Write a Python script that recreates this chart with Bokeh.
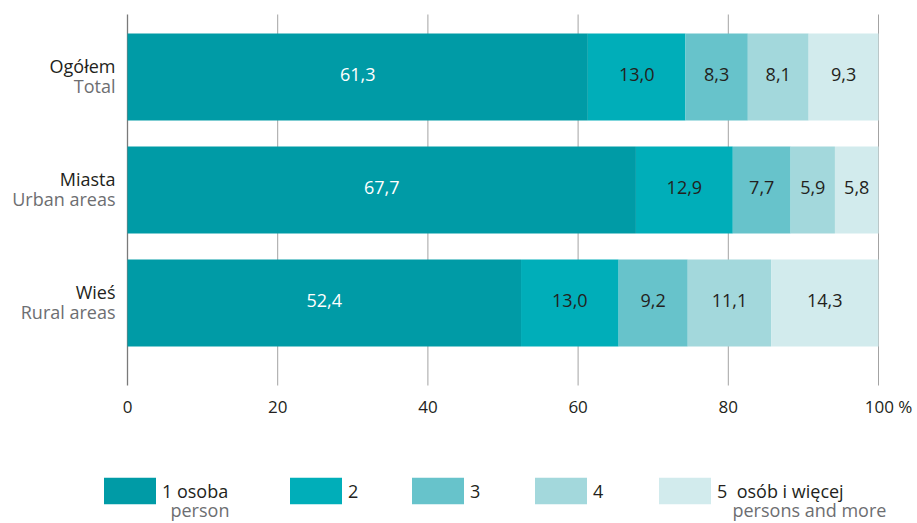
from bokeh.plotting import figure
from bokeh.models import Range1d, ColumnDataSource, Label, Legend, LegendItem
from bokeh.core.properties import value
from bokeh.embed import file_html
from bokeh.resources import INLINE

# ---- data ----
categories_pl = ["Ogółem", "Miasta", "Wieś"]
categories_en = ["Total", "Urban areas", "Rural areas"]
series_pl = ["1 osoba", "2", "3", "4", "5  osób i więcej"]
series_en = ["person", "", "", "", "persons and more"]
one_person = [61.3, 67.7, 52.4]
two_persons = [13.0, 12.9, 13.0]
three_persons = [8.3, 7.7, 9.2]
four_persons = [8.1, 5.9, 11.1]
five_plus = [9.3, 5.8, 14.3]
x_ticks = [0, 20, 40, 60, 80, 100]
x_tick_labels = ["0", "20", "40", "60", "80", "100 %"]

# ---- styles / layout ----
colors = ["#009ba6", "#00aeb9", "#67c3cb", "#a3d8dc", "#d2ebed"]
label_colors = ["#ffffff", "#231f20", "#231f20", "#231f20", "#231f20"]
FONT = "Open Sans"
DARK = "#231f20"
GRAY = "#6d6e71"
W, H = 917, 523
PX_X = 7.51          # pixels per percent
PX_Y = 113.0         # pixels per category step
TOP_CAT_PIX = 76.5   # pixel row of the first category centre
X0 = -127 / PX_X
X1 = 100 + (W - 878) / PX_X
Y1 = 2 + TOP_CAT_PIX / PX_Y
Y0 = 2 - (H - TOP_CAT_PIX) / PX_Y
GRID_TOP = 2 + (TOP_CAT_PIX - 14) / PX_Y
GRID_BOTTOM = -(385 - (TOP_CAT_PIX + 2 * PX_Y)) / PX_Y

series_values = [one_person, two_persons, three_persons, four_persons, five_plus]
keys = ["s%d" % i for i in range(len(series_values))]
n = len(categories_pl)
ypos = [n - 1 - i for i in range(n)]

data = {"y": ypos, "pl": categories_pl, "en": categories_en, "x0": [0] * n}
for k, vals in zip(keys, series_values):
    data[k] = vals
source = ColumnDataSource(data)

p = figure(width=W, height=H, output_backend="svg", toolbar_location=None,
           x_range=Range1d(X0, X1), y_range=Range1d(Y0, Y1),
           x_axis_type=None, y_axis_type=None,
           min_border=0, min_border_left=0, min_border_right=0,
           min_border_top=0, min_border_bottom=0)
p.outline_line_color = None
p.background_fill_color = "white"
p.border_fill_color = "white"

# grid lines (20..100) and zero axis line
grid_x = x_ticks[1:]
p.segment(x0=grid_x, x1=grid_x, y0=[GRID_BOTTOM] * len(grid_x),
          y1=[GRID_TOP] * len(grid_x), line_color="#a3a3a3", line_width=1)
p.segment(x0=[x_ticks[0]], x1=[x_ticks[0]], y0=[GRID_BOTTOM], y1=[GRID_TOP],
          line_color="#7a7a7a", line_width=1.3)

renderers = p.hbar_stack(keys, y="y", height=0.77, color=colors, source=source,
                         line_color=None)

# value labels inside segments
lx, ly, lt, lc = [], [], [], []
for i in range(n):
    left = 0.0
    for j, vals in enumerate(series_values):
        v = vals[i]
        lx.append(left + v / 2)
        ly.append(ypos[i])
        lt.append(("%.1f" % v).replace(".", ","))
        lc.append(label_colors[j])
        left += v
lab_src = ColumnDataSource(dict(x=lx, y=ly, t=lt, c=lc))
p.text(x="x", y="y", text="t", text_color="c", source=lab_src,
       text_align="center", text_baseline="middle", y_offset=-3,
       text_font=value(FONT), text_font_size="18px")

# x tick labels
tick_src = ColumnDataSource(dict(x=x_ticks, y=[GRID_BOTTOM] * len(x_ticks),
                                 t=x_tick_labels,
                                 dx=[0] * (len(x_ticks) - 1) + [10]))
p.text(x="x", y="y", text="t", source=tick_src, x_offset="dx", y_offset=21,
       text_align="center", text_baseline="alphabetic",
       text_font=value(FONT), text_font_size="17px", text_color=DARK)

# category labels (two lines)
p.text(x="x0", y="y", text="pl", source=source, x_offset=-12, y_offset=-11,
       text_align="right", text_baseline="alphabetic",
       text_font=value(FONT), text_font_size="18px", text_color=DARK)
p.text(x="x0", y="y", text="en", source=source, x_offset=-12, y_offset=9,
       text_align="right", text_baseline="alphabetic",
       text_font=value(FONT), text_font_size="18px", text_color=GRAY)

# legend (one block per item to match spacing); Bokeh insets bar swatches by 10%
swatch_x = [103, 289, 411, 534, 658]
sub_x = [170, 0, 0, 0, 732]
GW, GH = 65, 33
for r, lab, en, sxp, tx in zip(renderers, series_pl, series_en, swatch_x, sub_x):
    lg = Legend(items=[LegendItem(label=lab, renderers=[r])],
                location=(sxp - 6, 16),
                orientation="horizontal", padding=0, margin=0, spacing=0,
                glyph_width=GW, glyph_height=GH, label_height=26,
                label_standoff=0, border_line_color=None,
                background_fill_alpha=0, label_text_font=FONT,
                label_text_font_size="18px", label_text_color=DARK)
    p.add_layout(lg)
    if en:
        p.add_layout(Label(x=tx, y=14, x_units="screen", y_units="screen",
                           text=en, text_baseline="alphabetic",
                           text_font=FONT, text_font_size="18px",
                           text_color=GRAY))

open("out.html", "w").write(file_html(p, INLINE))
